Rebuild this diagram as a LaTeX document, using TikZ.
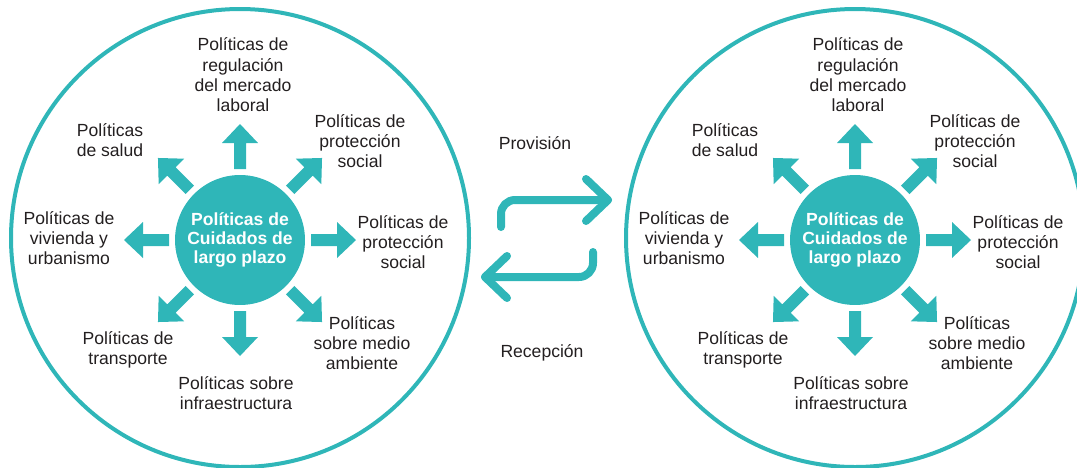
\documentclass[tikz,border=0pt]{standalone}
\usepackage{fontspec}
\setmainfont{Liberation Sans}
\usetikzlibrary{positioning}

\definecolor{cuidteal}{RGB}{47,182,184}
\definecolor{txtgray}{RGB}{35,31,32}

\begin{document}
\begin{tikzpicture}[x=0.02cm,y=-0.02cm,
	lbl/.style={align=center,inner sep=0pt,text=txtgray,font=\fontsize{10}{11.6}\selectfont},
	centro/.style={circle,fill=cuidteal,minimum size=2.6cm,inner sep=0pt,align=center,text=white,font=\fontsize{10}{11}\selectfont\bfseries},
	exch/.style={draw=cuidteal,line width=0.16cm,line cap=round,line join=round}]
			\useasboundingbox (0,0) rectangle (1077,467);
			\clip (0,0) rectangle (1077,467);
			
			% the two circles of policies
			\foreach \s/\n in {240/L,855/R}{
				\draw[cuidteal,line width=0.08cm] (\s,238) circle (229);
				\node[centro] (cuid\n) at (\s,240) {Políticas de\\Cuidados de\\largo plazo};
				\foreach \a in {0,45,...,315}
					\fill[cuidteal,shift={(cuid\n.center)},rotate=\a] (71,-6) -- (97,-6) -- (97,-18) -- (116,0) -- (97,18) -- (97,6) -- (71,6) -- cycle;
				
				\node[lbl] (mercado\n) at (\s+3,75) {Políticas de\\regulación\\del mercado\\laboral};
				\node[lbl] (proteccionA\n) at (\s+120,141) {Políticas de\\protección\\social};
				\node[lbl] (salud\n) at (\s-130,140) {Políticas\\de salud};
				\node[lbl] (vivienda\n) at (\s-171,238) {Políticas de\\vivienda y\\urbanismo};
				\node[lbl] (proteccionB\n) at (\s+163,242) {Políticas de\\protección\\social};
				\node[lbl] (transporte\n) at (\s-112,350) {Políticas de\\transporte};
				\node[lbl] (infra\n) at (\s-4,393) {Políticas sobre\\infraestructura};
				\node[lbl] (ambiente\n) at (\s+122,343) {Políticas\\sobre medio\\ambiente};
			}
			
			% exchange between the circles
			\node[lbl] (provision) at (535,143) {Provisión};
			\coordinate (provA) at (501,227); \coordinate (provB) at (608,200);
			\draw[exch,rounded corners=0.28cm] (provA) |- (provB);
			\draw[exch] (provB) ++(-22,-21) -- (provB) -- ++(-22,21);
			
			\node[lbl] (recepcion) at (542,353) {Recepción};
			\coordinate (recA) at (593,252); \coordinate (recB) at (485,277);
			\draw[exch,rounded corners=0.28cm] (recA) |- (recB);
			\draw[exch] (recB) ++(22,-21) -- (recB) -- ++(22,21);
\end{tikzpicture}
\end{document}
